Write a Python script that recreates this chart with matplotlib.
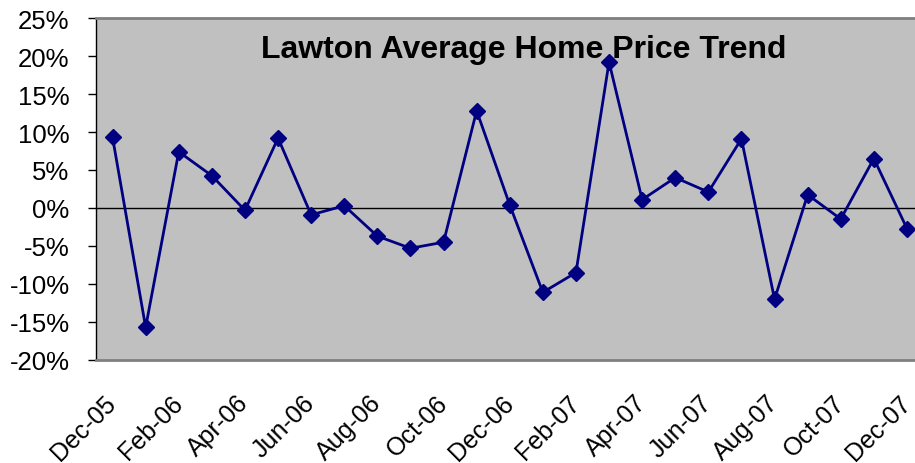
import numpy as np
import matplotlib.pyplot as plt

months = ["Dec-05", "Jan-06", "Feb-06", "Mar-06", "Apr-06", "May-06", "Jun-06",
          "Jul-06", "Aug-06", "Sep-06", "Oct-06", "Nov-06", "Dec-06", "Jan-07",
          "Feb-07", "Mar-07", "Apr-07", "May-07", "Jun-07", "Jul-07", "Aug-07",
          "Sep-07", "Oct-07", "Nov-07", "Dec-07"]
change_pct = [9.3, -15.7, 7.4, 4.25, -0.3, 9.2, -0.9, 0.3, -3.7, -5.3, -4.5,
              12.8, 0.4, -11.1, -8.5, 19.2, 1.1, 4.0, 2.1, 9.1, -12.0, 1.75,
              -1.45, 6.5, -2.7]
yticks = [-20, -15, -10, -5, 0, 5, 10, 15, 20, 25]

plt.rcParams['font.family'] = ['Liberation Sans', 'DejaVu Sans']

W, H = 915, 464
fig = plt.figure(figsize=(W / 100, H / 100), dpi=100)
# plot area runs past the right edge (cropped in the original)
left, right, top, bottom = 96, 923.5, 19, 361
ax = fig.add_axes([left / W, 1 - bottom / H, (right - left) / W, (bottom - top) / H])
ax.set_facecolor('#c0c0c0')

x = np.arange(len(months))
ax.axhline(0, color='black', lw=1)
ax.plot(x, change_pct, color='#000080', lw=2, marker='D', markersize=8,
        markerfacecolor='#000080', markeredgecolor='#000080', clip_on=False)

ax.set_xlim(-0.5, len(months) - 0.5)
ax.set_ylim(-20, 25)
ax.set_yticks(yticks)
ax.set_yticklabels([f"{v}%" for v in yticks], fontsize=18.5)
ax.set_xticks(x[::2])
ax.set_xticklabels(months[::2], fontsize=18, rotation=45, ha='right',
                   va='center', rotation_mode='anchor')
ax.tick_params(axis='x', length=0, pad=28)
ax.tick_params(axis='y', length=6, width=1, color='black', pad=13)

for s in ['top', 'bottom', 'right']:
    ax.spines[s].set_color('#808080')
    ax.spines[s].set_linewidth(2)
ax.spines['left'].set_color('black')
ax.spines['left'].set_linewidth(1)

ax.text(0.517, 0.91, "Lawton Average Home Price Trend", transform=ax.transAxes,
        ha='center', va='center', fontsize=23, fontweight='bold')

fig.savefig("out.png", dpi=100)
